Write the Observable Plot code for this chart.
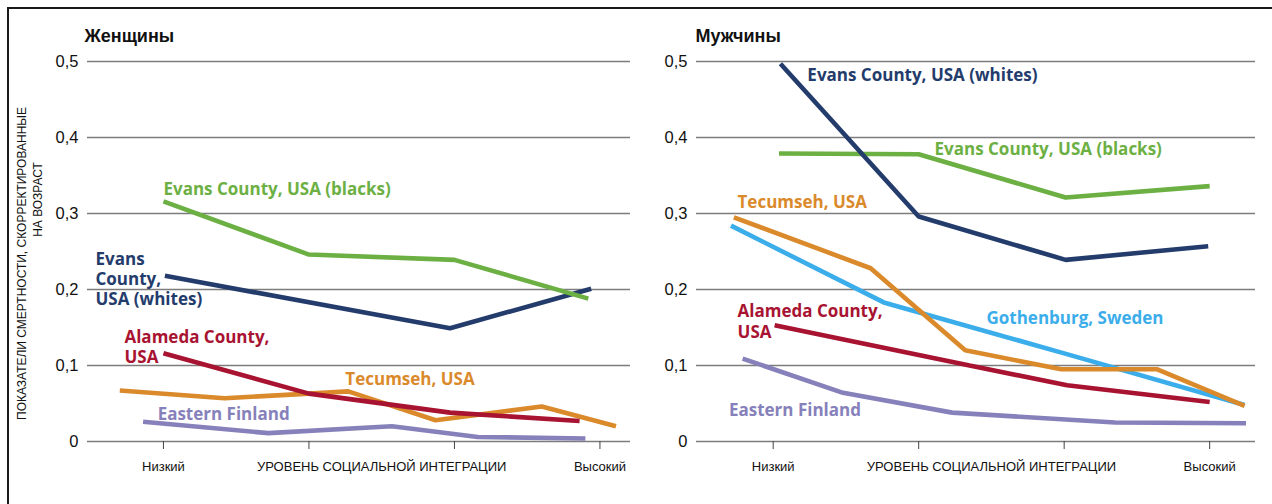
<!DOCTYPE html>
<html><head><meta charset="utf-8">
<script src="https://cdn.jsdelivr.net/npm/d3@7"></script>
<script src="https://cdn.jsdelivr.net/npm/@observablehq/plot@0.6"></script>
<style>
body{margin:0;background:#fff;}
#wrap{position:relative;width:1272px;height:504px;overflow:hidden;background:#fff;}
#frame{position:absolute;left:7px;top:7px;width:1265px;height:497px;border-top:2px solid #1a1a1a;border-left:2px solid #1a1a1a;box-sizing:border-box;}
.panel{position:absolute;top:0;}
</style></head><body>
<div id="wrap"><div id="frame"></div><div id="left" class="panel" style="left:0"></div><div id="right" class="panel" style="left:636px"></div></div>
<script>
// ---- data (x: position on the social-integration scale, ticks 1..4; y: age-adjusted mortality rate) ----
const yTicks = [0, 0.1, 0.2, 0.3, 0.4, 0.5];
const xTicks = [1, 2, 3, 4];
const xTickLabels = ["Низкий", "УРОВЕНЬ СОЦИАЛЬНОЙ ИНТЕГРАЦИИ", "Высокий"];
const xTickLabelPos = [1, 2.5, 4];
const yAxisTitle1 = "ПОКАЗАТЕЛИ СМЕРТНОСТИ, СКОРРЕКТИРОВАННЫЕ";
const yAxisTitle2 = "НА ВОЗРАСТ";

const seriesNames = ["Evans County, USA (blacks)", "Evans County, USA (whites)", "Alameda County, USA", "Tecumseh, USA", "Eastern Finland", "Gothenburg, Sweden"];
const seriesColors = ["#6cb044", "#243c6c", "#a81331", "#da8a2b", "#8681ba", "#3badea"];

// Women
const wBlacks  = [[1.0, 0.316], [2.0, 0.246], [3.0, 0.239], [3.92, 0.188]];
const wWhites  = [[1.01, 0.218], [2.97, 0.149], [3.94, 0.201]];
const wAlameda = [[1.0, 0.116], [2.0, 0.063], [2.97, 0.038], [3.86, 0.027]];
const wTecumseh = [[0.70, 0.067], [1.42, 0.057], [2.0, 0.063], [2.27, 0.066], [2.87, 0.028], [3.60, 0.046], [4.11, 0.020]];
const wFinland = [[0.86, 0.026], [1.72, 0.011], [2.57, 0.020], [3.16, 0.006], [3.90, 0.004]];

// Men
const mBlacks  = [[1.04, 0.379], [2.0, 0.378], [3.01, 0.321], [4.0, 0.336]];
const mWhites  = [[1.05, 0.497], [2.0, 0.296], [3.01, 0.239], [3.99, 0.257]];
const mAlameda = [[1.01, 0.153], [2.35, 0.100], [3.02, 0.074], [4.0, 0.052]];
const mTecumseh = [[0.73, 0.295], [1.67, 0.228], [2.32, 0.120], [2.98, 0.095], [3.64, 0.095], [4.24, 0.047]];
const mFinland = [[0.79, 0.109], [1.48, 0.064], [2.23, 0.038], [3.35, 0.025], [4.25, 0.024]];
const mGothenburg = [[0.71, 0.284], [1.76, 0.183], [3.0, 0.116], [4.24, 0.048]];

// label anchors (data units)
const wLabels = [
  {t: "Evans County, USA (blacks)", x: 1.0, y: 0.333, c: 0},
  {t: "Evans\nCounty,\nUSA (whites)", x: 0.533, y: 0.2145, c: 1},
  {t: "Alameda County,\nUSA", x: 0.732, y: 0.125, c: 2},
  {t: "Tecumseh, USA", x: 2.25, y: 0.083, c: 3},
  {t: "Eastern Finland", x: 0.96, y: 0.037, c: 4}
];
const mLabels = [
  {t: "Evans County, USA (whites)", x: 1.235, y: 0.483, c: 1},
  {t: "Evans County, USA (blacks)", x: 2.109, y: 0.386, c: 0},
  {t: "Tecumseh, USA", x: 0.755, y: 0.316, c: 3},
  {t: "Gothenburg, Sweden", x: 2.466, y: 0.163, c: 5},
  {t: "Alameda County,\nUSA", x: 0.755, y: 0.1586, c: 2},
  {t: "Eastern Finland", x: 0.696, y: 0.042, c: 4}
];

const fmt = d => d === 0 ? "0" : d.toFixed(1).replace(".", ",");

function panel({title, series, labels, marginLeft, marginRight, xDomain, titleDx, withYTitle}) {
  const marks = [
    Plot.ruleY(yTicks, {stroke: "#7c7c7c", strokeWidth: 1.4}),
    Plot.axisX({ticks: xTicks, tickFormat: () => "", tickSize: 8, stroke: "#444", label: null}),
    Plot.axisY({ticks: yTicks, tickFormat: fmt, tickSize: 0, tickPadding: 9, fontSize: 16.5, label: null, fill: "#111"}),
    Plot.text(xTickLabels, {x: (d, i) => xTickLabelPos[i], text: d => d, frameAnchor: "bottom", dy: 29, fontSize: 13, fill: "#111"}),
    Plot.text([title], {frameAnchor: "top-left", dx: titleDx, dy: -25, textAnchor: "start", lineAnchor: "middle", fontSize: 18, fontWeight: "bold", fill: "#111"})
  ];
  if (withYTitle) {
    marks.push(Plot.text([yAxisTitle1], {frameAnchor: "left", textAnchor: "middle", lineAnchor: "middle", rotate: -90, dx: -65, dy: 12, fontSize: 12, fill: "#111"}));
    marks.push(Plot.text([yAxisTitle2], {frameAnchor: "left", textAnchor: "middle", lineAnchor: "middle", rotate: -90, dx: -49, dy: -52, fontSize: 12, fill: "#111"}));
  }
  for (const s of series) {
    marks.push(Plot.line(s.data, {x: d => d[0], y: d => d[1], stroke: seriesColors[s.c], strokeWidth: 4.6, strokeLinecap: "butt", strokeLinejoin: "miter"}));
  }
  marks.push(Plot.text(labels, {x: "x", y: "y", text: "t", fill: d => seriesColors[d.c], textAnchor: "start", lineAnchor: "middle", lineHeight: 1.2, fontSize: 17, fontWeight: 700, fontFamily: "'Open Sans', sans-serif"}));
  return Plot.plot({
    width: 636, height: 504,
    marginLeft, marginRight, marginTop: 61, marginBottom: 63,
    style: {fontFamily: "'Liberation Sans', Arial, sans-serif", background: "transparent"},
    x: {domain: xDomain},
    y: {domain: [0, 0.5]},
    marks
  });
}

document.getElementById("left").append(panel({
  title: "Женщины",
  series: [{data: wTecumseh, c: 3}, {data: wAlameda, c: 2}, {data: wFinland, c: 4}, {data: wWhites, c: 1}, {data: wBlacks, c: 0}],
  labels: wLabels, marginLeft: 87, marginRight: 6, xDomain: [0.478, 4.21], titleDx: -3, withYTitle: true
}));
document.getElementById("right").append(panel({
  title: "Мужчины",
  series: [{data: mGothenburg, c: 5}, {data: mFinland, c: 4}, {data: mAlameda, c: 2}, {data: mTecumseh, c: 3}, {data: mBlacks, c: 0}, {data: mWhites, c: 1}],
  labels: mLabels, marginLeft: 60, marginRight: 17, xDomain: [0.473, 4.315], titleDx: -1, withYTitle: false
}));
</script>
</body></html>
